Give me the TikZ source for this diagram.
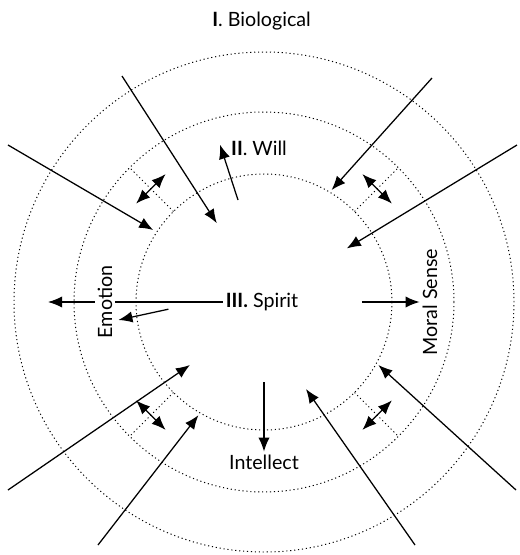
\documentclass[tikz,border=0pt]{standalone}
\usepackage{fontspec}
\setmainfont{Lato}
\usetikzlibrary{arrows.meta,calc}

\begin{document}
\begin{tikzpicture}[
    ring/.style={dash pattern=on 0.8pt off 2pt,line width=0.7pt},
    arr/.style={-{Latex[length=10pt,width=8pt]},line width=0.9pt},
    dblarr/.style={{Latex[length=10pt,width=8pt]}-{Latex[length=10pt,width=8pt]},line width=0.9pt},
    lbl/.style={font=\fontsize{14}{16}\selectfont,inner sep=2pt}
  ]
  \useasboundingbox (-6.6,-6.325) rectangle (6.375,7.55);
  % the three levels
  \draw[ring] (0,0) circle (3.2);
  \draw[ring] (0,0) circle (4.75);
  \draw[ring] (0,0) circle (6.25);
  \draw[ring] (45:3.2) -- (45:4.75);
  \draw[ring] (135:3.2) -- (135:4.75);
  \draw[ring] (225:3.2) -- (225:4.75);
  \draw[ring] (315:3.2) -- (315:4.75);

  \node[lbl] (bio) at (-0.06,7.02) {\textbf{I}. Biological};
  \node[lbl] (will) at (-0.125,3.83) {\textbf{II}. Will};
  \node[lbl] (spirit) at (-0.05,0) {\textbf{III.} Spirit};
  \node[lbl] (intellect) at (0,-4.0) {Intellect};
  \node[lbl,rotate=90] (emotion) at (-3.975,0) {Emotion};
  \node[lbl,rotate=90] (moral) at (4.15,0) {Moral Sense};

  % arrows out of the centre
  \coordinate (emoout) at (-5.4,0);
  \draw[line width=0.9pt] (spirit.west) -- (emotion);
  \draw[arr] (emotion) -- (emoout);
  \coordinate (emoin) at (-2.39,-0.18);
  \draw[arr] (emoin) -- (-3.64,-0.45);
  \coordinate (moralin) at (2.45,0);
  \draw[arr] (moralin) -- (moral);
  \coordinate (intin) at (0,-2.0);
  \draw[arr] (intin) -- (intellect);
  \coordinate (willin) at (-0.65,2.55);
  \draw[arr] (willin) -- ([xshift=-2mm,yshift=1mm]will.west);

  % arrows coming in from outside
  \draw[arr] (-3.55,5.65) -- (-1.18,1.97);
  \draw[arr] (4.2,5.6) -- (1.69,2.8);
  \draw[arr] (6.325,3.925) -- (2.07,1.34);
  \draw[arr] (-6.4,3.925) -- (-2.77,1.8);
  \draw[arr] (-6.4,-4.7) -- (-1.85,-1.575);
  \draw[arr] (-4.15,-6.075) -- (-1.64,-2.83);
  \draw[arr] (3.775,-6.075) -- (1.05,-2.175);
  \draw[arr] (6.3,-4.7) -- (2.86,-1.575);

  % exchange between the inner levels
  \draw[dblarr] ($(45:4)+(135:0.52)$) -- ($(45:4)+(-45:0.52)$);
  \draw[dblarr] ($(135:4)+(45:0.52)$) -- ($(135:4)+(225:0.52)$);
  \draw[dblarr] ($(225:4)+(135:0.52)$) -- ($(225:4)+(-45:0.52)$);
  \draw[dblarr] ($(315:4)+(45:0.52)$) -- ($(315:4)+(225:0.52)$);
\end{tikzpicture}
\end{document}
